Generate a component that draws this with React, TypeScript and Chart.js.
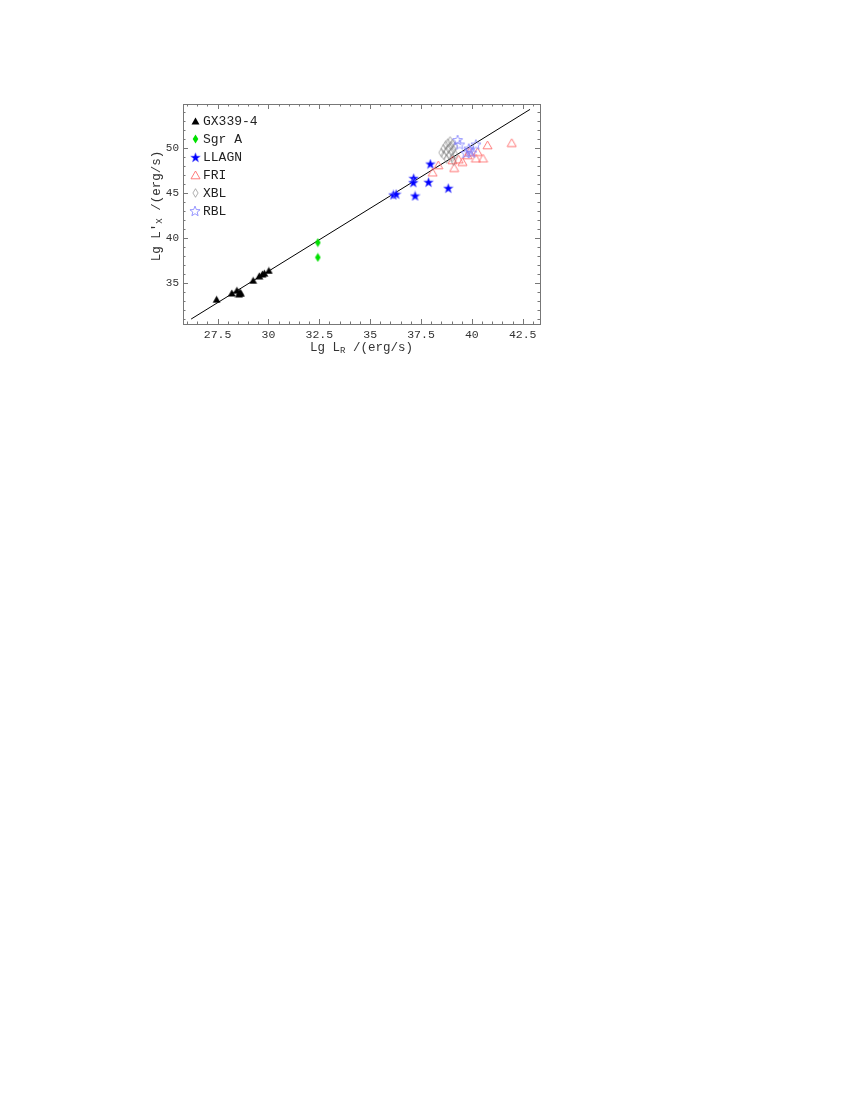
import React, { useEffect, useRef } from "react";
import { Chart, registerables } from "chart.js";

Chart.register(...registerables);

// ---------- data ----------
const gxX = [27.45, 28.2, 28.45, 28.55, 28.6, 28.65, 29.25, 29.55, 29.7, 29.8, 30.02];
const gxY = [33.2, 33.9, 34.2, 33.8, 34.0, 33.85, 35.3, 35.8, 36.0, 36.1, 36.4];

const sgrX = [32.43, 32.43];
const sgrY = [39.5, 37.85];

const llagnX = [37.96, 37.14, 37.12, 37.87, 38.84, 36.14, 36.28, 37.21];
const llagnY = [48.23, 46.64, 46.16, 46.2, 45.53, 44.79, 44.87, 44.68];

const friX = [38.07, 38.35, 39.13, 39.05, 39.35, 39.54, 39.79, 39.87, 40.2, 40.28, 40.55, 40.77, 41.96];
const friY = [47.31, 48.12, 47.82, 48.68, 48.76, 48.49, 49.23, 49.6, 48.87, 49.6, 48.87, 50.34, 50.6];

const xblX = [38.5, 38.6, 38.71, 38.82, 38.93, 38.62, 38.74, 38.85, 38.96, 39.05, 38.88, 38.99, 39.1, 39.17, 38.76, 39.04, 39.18, 39.1];
const xblY = [49.5, 49.94, 50.31, 50.57, 50.8, 49.2, 49.64, 49.94, 50.25, 50.5, 49.2, 49.57, 49.85, 50.2, 48.8, 48.95, 49.3, 48.55];

const rblX = [39.3, 39.4, 40.2, 39.7, 39.9, 40.0, 39.85];
const rblY = [50.9, 50.4, 50.4, 49.45, 49.75, 49.5, 49.95];

const fitX = [26.2, 42.86];
const fitY = [31.0, 54.3];

const xTicks = [27.5, 30, 32.5, 35, 37.5, 40, 42.5];
const yTicks = [35, 40, 45, 50];
const xTickLabels = ["27.5", "30", "32.5", "35", "37.5", "40", "42.5"];
const yTickLabels = ["35", "40", "45", "50"];

const seriesNames = ["GX339-4", "Sgr A", "LLAGN", "FRI", "XBL", "RBL"];

const zip = (xs: number[], ys: number[]) => xs.map((x, i) => ({ x, y: ys[i] }));

// ---------- markers ----------
function mk(w: number, h: number, draw: (c: CanvasRenderingContext2D) => void) {
  const cv = document.createElement("canvas");
  cv.width = w;
  cv.height = h;
  const c = cv.getContext("2d")!;
  draw(c);
  return cv;
}

function starPath(c: CanvasRenderingContext2D, cx: number, cy: number, ro: number, ri: number) {
  c.beginPath();
  for (let i = 0; i < 10; i++) {
    const r = i % 2 === 0 ? ro : ri;
    const a = -Math.PI / 2 + (i * Math.PI) / 5;
    const px = cx + r * Math.cos(a);
    const py = cy + r * Math.sin(a);
    if (i === 0) c.moveTo(px, py);
    else c.lineTo(px, py);
  }
  c.closePath();
}

function makeMarkers() {
  const triFilled = mk(9, 8, (c) => {
    c.beginPath();
    c.moveTo(4.5, 0.5);
    c.lineTo(8.5, 7.5);
    c.lineTo(0.5, 7.5);
    c.closePath();
    c.fillStyle = "#000";
    c.fill();
  });
  const diaGreen = mk(7, 10, (c) => {
    c.beginPath();
    c.moveTo(3.5, 0.5);
    c.lineTo(6.3, 5);
    c.lineTo(3.5, 9.5);
    c.lineTo(0.7, 5);
    c.closePath();
    c.fillStyle = "#00e000";
    c.fill();
  });
  const starBlue = mk(11, 11, (c) => {
    starPath(c, 5.5, 5.8, 5, 2.1);
    c.fillStyle = "#0000ff";
    c.fill();
    c.strokeStyle = "rgba(110,110,255,0.8)";
    c.lineWidth = 0.8;
    c.stroke();
  });
  const triHollow = mk(11, 10, (c) => {
    c.beginPath();
    c.moveTo(5.5, 1);
    c.lineTo(10, 8.8);
    c.lineTo(1, 8.8);
    c.closePath();
    c.strokeStyle = "rgb(255,110,110)";
    c.lineWidth = 0.9;
    c.stroke();
  });
  const diaHollow = mk(7, 10, (c) => {
    c.beginPath();
    c.moveTo(3.5, 0.7);
    c.lineTo(6.1, 5);
    c.lineTo(3.5, 9.3);
    c.lineTo(0.9, 5);
    c.closePath();
    c.strokeStyle = "#7a7a7a";
    c.lineWidth = 0.6;
    c.stroke();
  });
  const starHollow = mk(12, 12, (c) => {
    starPath(c, 6, 6.4, 5.3, 2.3);
    c.strokeStyle = "rgb(125,125,255)";
    c.lineWidth = 0.8;
    c.stroke();
  });
  return [triFilled, diaGreen, starBlue, triHollow, diaHollow, starHollow];
}

const FONT = "'Liberation Mono', 'DejaVu Sans Mono', monospace";

export default function App() {
  const ref = useRef<HTMLCanvasElement>(null);

  useEffect(() => {
    if (!ref.current) return;
    const markers = makeMarkers();

    const framePlugin = {
      id: "frame",
      afterDatasetsDraw(chart: any) {
        const { ctx, chartArea: a, scales } = chart;
        const xs = scales.x;
        const ys = scales.y;
        ctx.save();
        ctx.strokeStyle = "#777";
        ctx.lineWidth = 1;
        ctx.strokeRect(Math.round(a.left) + 0.5, Math.round(a.top) + 0.5, Math.round(a.right - a.left), Math.round(a.bottom - a.top));
        ctx.beginPath();
        for (let v = 26; v <= 43.01; v += 0.5) {
          const major = xTicks.some((t) => Math.abs(t - v) < 1e-6);
          const len = major ? 5 : 2.5;
          const px = Math.round(xs.getPixelForValue(v)) + 0.5;
          if (px < a.left || px > a.right) continue;
          ctx.moveTo(px, a.bottom);
          ctx.lineTo(px, a.bottom - len);
          ctx.moveTo(px, a.top);
          ctx.lineTo(px, a.top + len);
        }
        for (let v = 31; v <= 54; v += 1) {
          const major = yTicks.includes(v);
          const len = major ? 5 : 2.5;
          const py = Math.round(ys.getPixelForValue(v)) + 0.5;
          ctx.moveTo(a.left, py);
          ctx.lineTo(a.left + len, py);
          ctx.moveTo(a.right, py);
          ctx.lineTo(a.right - len, py);
        }
        ctx.stroke();

        // legend
        ctx.fillStyle = "#222";
        ctx.font = `13px ${FONT}`;
        ctx.textBaseline = "middle";
        ctx.textAlign = "left";
        seriesNames.forEach((n, i) => {
          const y = a.top + 17 + i * 18;
          const m = markers[i];
          ctx.drawImage(m, Math.round(a.left + 12 - m.width / 2), Math.round(y - m.height / 2));
          ctx.fillText(n, a.left + 20, y + 0.5);
        });

        // axis titles
        ctx.fillStyle = "#333";
        const big = `12.5px ${FONT}`;
        const small = `9px ${FONT}`;
        ctx.font = big;
        const w1 = ctx.measureText("Lg L").width;
        const w3 = ctx.measureText(" /(erg/s)").width;
        ctx.font = small;
        const w2 = ctx.measureText("R").width;
        const tx = (a.left + a.right) / 2 - (w1 + w2 + w3) / 2;
        const ty = a.bottom + 24;
        ctx.font = big;
        ctx.fillText("Lg L", tx, ty);
        ctx.font = small;
        ctx.fillText("R", tx + w1, ty + 3);
        ctx.font = big;
        ctx.fillText(" /(erg/s)", tx + w1 + w2, ty);

        ctx.save();
        ctx.translate(a.left - 26, (a.top + a.bottom) / 2 - 8);
        ctx.rotate(-Math.PI / 2);
        ctx.font = big;
        const v1 = ctx.measureText("Lg L\u2032").width;
        const v3 = ctx.measureText(" /(erg/s)").width;
        ctx.font = small;
        const v2 = ctx.measureText("X").width;
        const sx = -(v1 + v2 + v3) / 2;
        ctx.font = big;
        ctx.fillText("Lg L\u2032", sx, 0);
        ctx.font = small;
        ctx.fillText("X", sx + v1, 3);
        ctx.font = big;
        ctx.fillText(" /(erg/s)", sx + v1 + v2, 0);
        ctx.restore();

        ctx.restore();
      },
    };

    const pointDs = (i: number, xs: number[], ys: number[]) => ({
      label: seriesNames[i],
      data: zip(xs, ys),
      pointStyle: markers[i],
      pointRadius: 5,
      showLine: false,
    });

    const chart = new Chart(ref.current, {
      type: "scatter",
      data: {
        datasets: [
          pointDs(5, rblX, rblY),
          pointDs(4, xblX, xblY),
          pointDs(3, friX, friY),
          pointDs(2, llagnX, llagnY),
          pointDs(1, sgrX, sgrY),
          pointDs(0, gxX, gxY),
          {
            label: "fit",
            data: zip(fitX, fitY),
            showLine: true,
            borderColor: "#000",
            borderWidth: 1,
            pointRadius: 0,
          } as any,
        ],
      },
      options: {
        animation: false,
        responsive: false,
        devicePixelRatio: 1,
        layout: { padding: { left: 143, top: 104, right: 310, bottom: 36 } },
        plugins: { legend: { display: false }, tooltip: { enabled: false } },
        scales: {
          x: {
            type: "linear",
            min: 25.8,
            max: 43.35,
            grid: { display: false, drawTicks: false },
            border: { display: false },
            afterFit: (s: any) => {
              s.height = 40;
            },
            afterBuildTicks: (s: any) => {
              s.ticks = xTicks.map((v) => ({ value: v }));
            },
            ticks: {
              autoSkip: false,
              maxRotation: 0,
              padding: 4,
              color: "#333",
              font: { family: FONT, size: 11.5 },
              callback: (v: any) => {
                const i = xTicks.indexOf(Number(v));
                return i >= 0 ? xTickLabels[i] : "";
              },
            },
          },
          y: {
            type: "linear",
            min: 30.45,
            max: 54.9,
            grid: { display: false, drawTicks: false },
            border: { display: false },
            afterFit: (s: any) => {
              s.width = 40;
            },
            afterBuildTicks: (s: any) => {
              s.ticks = yTicks.map((v) => ({ value: v }));
            },
            ticks: {
              autoSkip: false,
              padding: 4,
              color: "#333",
              font: { family: FONT, size: 11 },
              callback: (v: any) => {
                const i = yTicks.indexOf(Number(v));
                return i >= 0 ? yTickLabels[i] : "";
              },
            },
          },
        },
      },
      plugins: [framePlugin],
    });
    return () => chart.destroy();
  }, []);

  return (
    <div style={{ position: "absolute", left: 0, top: 0, width: 850, height: 400 }}>
      <canvas ref={ref} width={850} height={400} />
    </div>
  );
}
